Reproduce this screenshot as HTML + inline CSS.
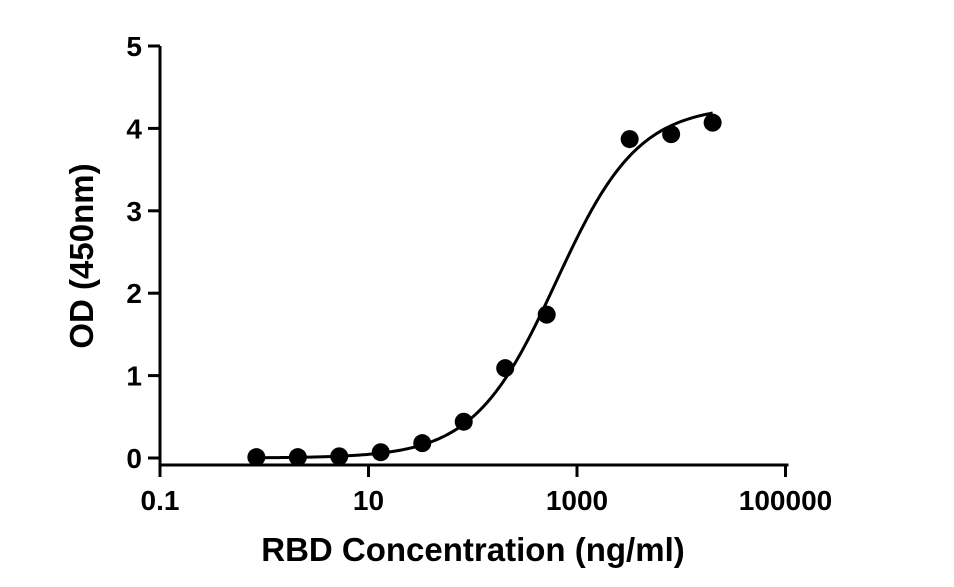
<!DOCTYPE html>
<html><head><meta charset="utf-8"><style>
body{margin:0;background:#fff;}
svg{display:block;font-family:"Liberation Sans",Arial,sans-serif;font-weight:bold;}
</style></head><body>
<svg id="chart" width="954" height="587" viewBox="0 0 954 587">
<g id="axes"></g>
<g id="marks"></g>
<text x="473" y="561" text-anchor="middle" font-size="33">RBD Concentration (ng/ml)</text>
<text transform="translate(93,256) rotate(-90)" text-anchor="middle" font-size="33">OD (450nm)</text>
</svg>
<script>
const concentrations=[0.84,2.1,5.24,13.1,32.8,81.9,204.8,512,3200,8000,20000];
const odValues=[0.01,0.01,0.02,0.07,0.18,0.44,1.09,1.74,3.87,3.93,4.07];
const xTickValues=[0.1,10,1000,100000];
const xTickLabels=["0.1","10","1000","100000"];
const yTickValues=[0,1,2,3,4,5];
const fitParams=[0,4.28,631,1.1]; // bottom, top, EC50, hill
const NS="http://www.w3.org/2000/svg";
const xs=v=>160+(Math.log10(v)+1)*104.25;
const ys=v=>458-v*82.4;
function mk(tag,attrs,parent){const e=document.createElementNS(NS,tag);for(const k in attrs)e.setAttribute(k,attrs[k]);parent.appendChild(e);return e;}
const ax=document.getElementById('axes'),mg=document.getElementById('marks');
let l=mk('line',{x1:160,y1:46,x2:160,y2:466,stroke:'#000','stroke-width':3},ax);


l=mk('line',{x1:158.5,y1:465,x2:788.5,y2:465,stroke:'#000','stroke-width':3},ax);


yTickValues.forEach(v=>{const y=ys(v);
 const t=mk('line',{x1:148,y1:y,x2:160,y2:y,stroke:'#000','stroke-width':3},ax);
 
 
 const tx=mk('text',{x:142,y:y+10,'text-anchor':'end','font-size':28},ax);tx.textContent=String(v);
 
 
});
xTickValues.forEach((v,i)=>{const x=xs(v);
 const t=mk('line',{x1:x,y1:465,x2:x,y2:477,stroke:'#000','stroke-width':3},ax);
 
 
 const tx=mk('text',{x:x,y:510,'text-anchor':'middle','font-size':28},ax);tx.textContent=xTickLabels[i];
 
 
});
const [B,T,E,H]=fitParams;
const f=x=>B+(T-B)/(1+Math.pow(E/x,H));
let d='';const lo=Math.log10(concentrations[0]),hi=Math.log10(concentrations[concentrations.length-1]);
for(let i=0;i<=200;i++){const lx=lo+(hi-lo)*i/200,x=Math.pow(10,lx);d+=(i?'L':'M')+xs(x).toFixed(2)+','+ys(f(x)).toFixed(2);}
const p=mk('path',{d:d,fill:'none',stroke:'#000','stroke-width':3},mg);


concentrations.forEach((c,i)=>{
 const pt=mk('circle',{cx:xs(c),cy:ys(odValues[i]),r:9,fill:'#000'},mg);
 
 
});
</script>
</body></html>
